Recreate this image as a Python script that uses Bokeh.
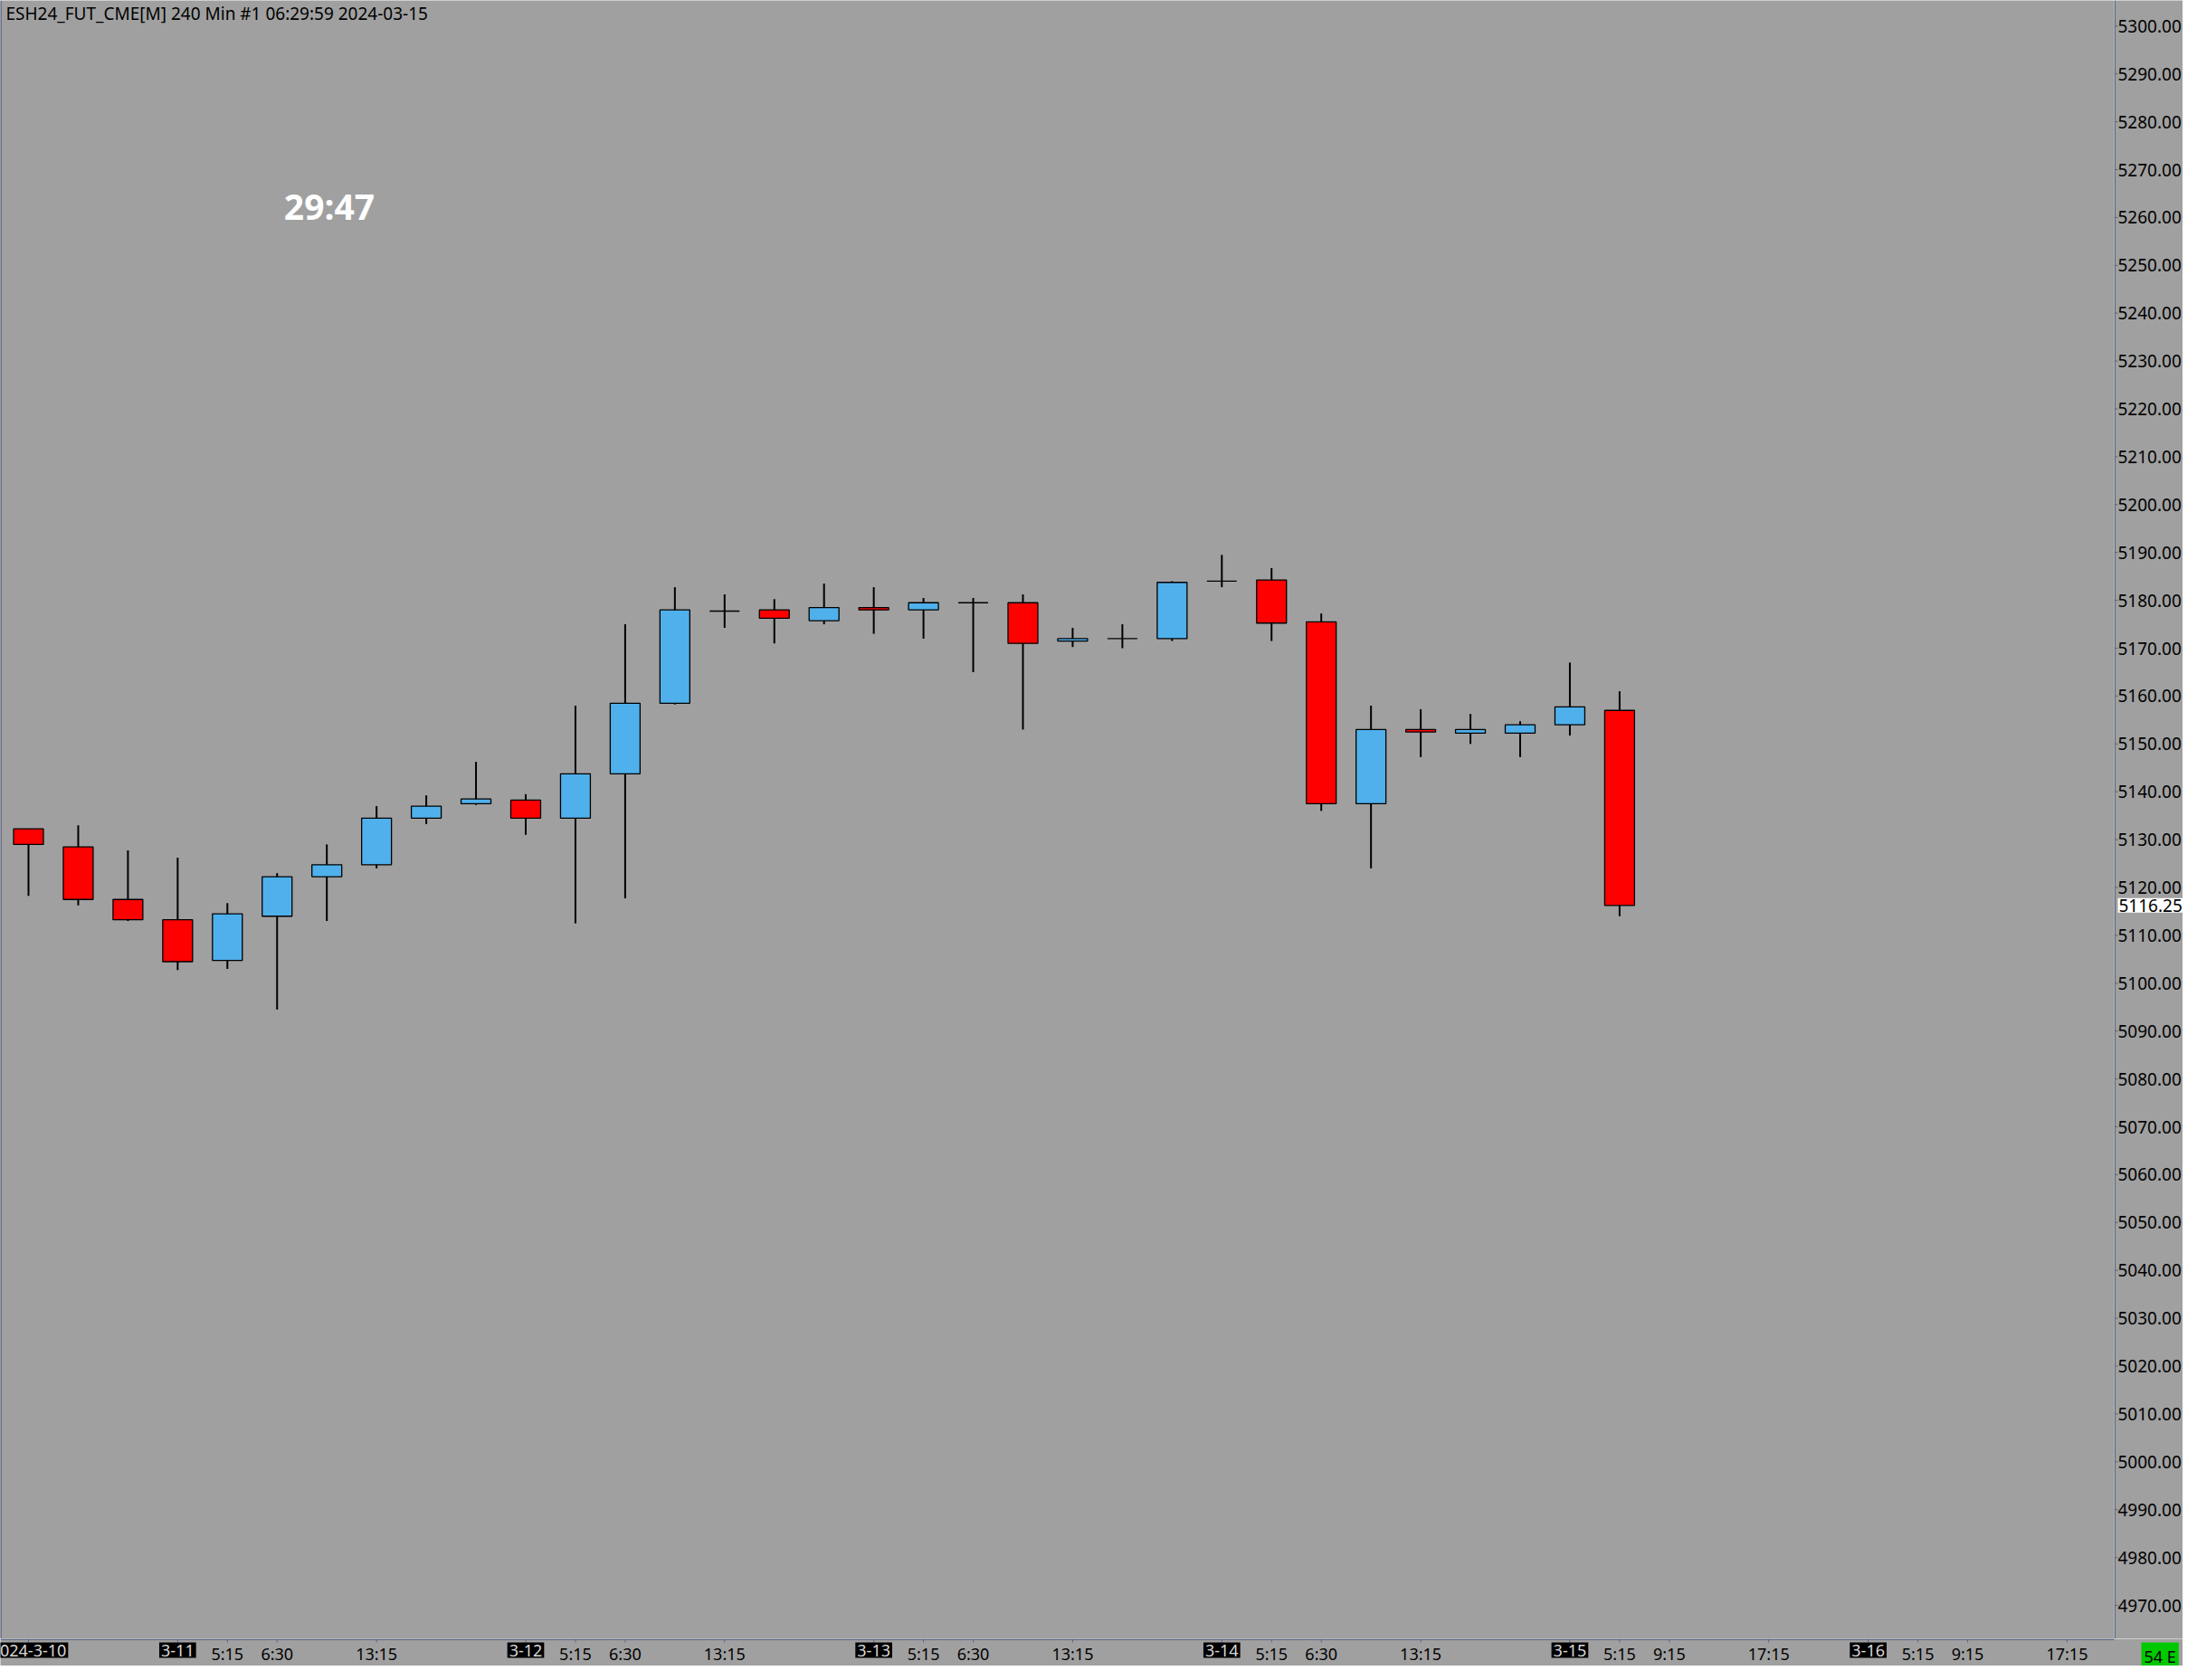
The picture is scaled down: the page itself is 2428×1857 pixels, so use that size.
from bokeh.plotting import figure
from bokeh.models import Range1d, Label, Span, ColumnDataSource
from bokeh.layouts import column, row
from bokeh.core.properties import value
from bokeh.embed import file_html
from bokeh.resources import INLINE

# ---- data (240 min bars, ESH24) ----
bar_index = list(range(33))
opens = [5132.25, 5128.5, 5117.5, 5113.25, 5104.75, 5114.0, 5122.25, 5124.75, 5134.5, 5137.5,
         5138.25, 5134.5, 5143.75, 5158.5, 5177.75, 5178.0, 5175.75, 5178.5, 5178.0, 5179.5,
         5179.5, 5171.5, 5172.0, 5172.0, 5184.0, 5184.25, 5175.5, 5137.5, 5153.0, 5152.25,
         5152.25, 5154.0, 5157.0]
highs = [5132.25, 5133.0, 5127.75, 5126.25, 5116.75, 5123.0, 5129.0, 5137.0, 5139.25, 5146.25,
         5139.5, 5158.0, 5175.0, 5182.75, 5181.25, 5180.25, 5183.5, 5182.75, 5180.5, 5180.5,
         5181.25, 5174.25, 5175.0, 5184.0, 5189.5, 5186.75, 5177.25, 5158.0, 5157.25, 5156.25,
         5154.75, 5167.0, 5161.0]
lows = [5118.25, 5116.25, 5113.0, 5102.75, 5103.0, 5094.5, 5113.0, 5124.0, 5133.25, 5137.25,
        5131.0, 5112.5, 5117.75, 5158.25, 5174.25, 5171.0, 5175.0, 5173.0, 5172.0, 5165.0,
        5153.0, 5170.25, 5170.0, 5171.5, 5182.75, 5171.5, 5136.0, 5124.0, 5147.25, 5150.0,
        5147.25, 5151.75, 5114.0]
closes = [5129.0, 5117.5, 5113.25, 5104.5, 5114.5, 5122.25, 5124.75, 5134.5, 5137.0, 5138.5,
          5134.5, 5143.75, 5158.5, 5178.0, 5177.75, 5176.25, 5178.5, 5178.0, 5179.5, 5179.5,
          5171.0, 5172.0, 5172.0, 5183.75, 5184.0, 5175.25, 5137.5, 5153.0, 5152.5, 5153.0,
          5154.0, 5157.75, 5116.25]

y_ticks = list(range(4970, 5301, 10))
y_tick_labels = [f"{v:.2f}" for v in y_ticks]
date_ticks = [0, 3, 10, 17, 24, 31, 37]
date_labels = ["2024-3-10", "3-11", "3-12", "3-13", "3-14", "3-15", "3-16"]
time_ticks = [4, 5, 7, 11, 12, 14, 18, 19, 21, 25, 26, 28, 32, 33, 35, 38, 39, 41]
time_labels = ["5:15", "6:30", "13:15", "5:15", "6:30", "13:15", "5:15", "6:30", "13:15",
               "5:15", "6:30", "13:15", "5:15", "9:15", "17:15", "5:15", "9:15", "17:15"]

title_text = "ESH24_FUT_CME[M]  240 Min  #1 06:29:59 2024-03-15"
timer_text = "29:47"
last_price_text = "5116.25"
status_text = "54 E"

# ---- styles / layout ----
BG = "#a0a0a0"
UP = "#50b0ec"
DOWN = "#ff0000"
AXIS = "#5c6680"
FONT = "Noto Sans"
FS = "19px"
FS_Y = "19px"
FS_T = "18px"

TOTAL_W, TOTAL_H = 2412, 1841
MAIN_W, MAIN_H = 2336, 1811
SCALE_W = TOTAL_W - MAIN_W
STRIP_H = TOTAL_H - MAIN_H

PX_PER_BAR = 54.95
PX_PER_PT = 5.29
x_lo = -0.564
x_hi = x_lo + MAIN_W / PX_PER_BAR
y_hi = 5305.35
y_lo = y_hi - MAIN_H / PX_PER_PT

colors = [UP if c >= o else DOWN for o, c in zip(opens, closes)]
src = ColumnDataSource(dict(
    x=bar_index, open=opens, high=highs, low=lows, close=closes,
    top=[max(o, c) for o, c in zip(opens, closes)],
    bottom=[min(o, c) for o, c in zip(opens, closes)],
    color=colors,
))


def base_fig(w, h, xr, yr):
    f = figure(width=w, height=h, x_range=xr, y_range=yr, output_backend="svg",
               toolbar_location=None, x_axis_location=None, y_axis_location=None,
               background_fill_color=BG, border_fill_color=BG, outline_line_color=None,
               min_border=0)
    f.grid.visible = False
    return f


# ---- main price pane ----
yr = Range1d(y_lo, y_hi)
p = base_fig(MAIN_W, MAIN_H, Range1d(x_lo, x_hi), yr)
p.segment(x0="x", y0="low", x1="x", y1="high", source=src, line_color="black", line_width=2)
p.vbar(x="x", width=0.6, top="top", bottom="bottom", source=src,
       fill_color="color", line_color="black", line_width=1.3)
p.add_layout(Span(location=x_lo, dimension="height", line_color=AXIS, line_width=2.5))
p.add_layout(Label(x=x_lo, y=y_hi, x_offset=6, y_offset=-1, text=title_text, text_align="left",
                   text_baseline="top", text_font=FONT, text_font_size=FS, text_color="black"))
p.add_layout(Label(x=6.05, y=5262.5, text=timer_text, text_align="center", text_baseline="middle",
                   text_font=FONT, text_font_size="39px", text_font_style="bold", text_color="white"))

# ---- price scale (right) ----
ps = base_fig(SCALE_W, MAIN_H, Range1d(0, SCALE_W), yr)
ps.add_layout(Span(location=0.75, dimension="height", line_color=AXIS, line_width=1.5))
ps.segment(x0=[0] * len(y_ticks), x1=[4] * len(y_ticks), y0=y_ticks, y1=y_ticks,
           line_color=AXIS, line_width=1)
ps.text(x=[4] * len(y_ticks), y=y_ticks, text=y_tick_labels, text_align="left",
        text_baseline="middle", text_font=value(FONT), text_font_size=FS_Y, text_color="black")
ps.add_layout(Label(x=4, y=closes[-1], text=last_price_text, text_align="left",
                    text_baseline="middle", text_font=FONT, text_font_size=FS_Y, text_color="black",
                    background_fill_color="white", padding=1))

# ---- time scale (bottom) ----
ts = base_fig(TOTAL_W, STRIP_H, Range1d(x_lo, x_lo + TOTAL_W / PX_PER_BAR), Range1d(0, STRIP_H))
ts.segment(x0=[x_lo], x1=[x_hi], y0=[STRIP_H - 0.75], y1=[STRIP_H - 0.75],
           line_color=AXIS, line_width=1.5)
all_ticks = date_ticks + time_ticks
ts.segment(x0=all_ticks, x1=all_ticks, y0=[STRIP_H] * len(all_ticks),
           y1=[STRIP_H - 4] * len(all_ticks), line_color=AXIS, line_width=1)
ts.text(x=time_ticks, y=[STRIP_H - 4] * len(time_ticks), text=time_labels, text_align="center",
        text_baseline="top", text_font=value(FONT), text_font_size=FS_T, text_color="black")
for t, lab in zip(date_ticks, date_labels):
    ts.add_layout(Label(x=t, y=STRIP_H - 4, text=lab, text_align="center", text_baseline="top",
                        text_font=FONT, text_font_size=FS_T, text_color="#d8d8d8",
                        background_fill_color="black", padding=2))
ts.add_layout(Label(x=x_hi, y=STRIP_H - 4, x_offset=30, text=status_text, text_align="left",
                    text_baseline="top", text_font=FONT, text_font_size=FS_T, text_color="black",
                    background_fill_color="#00c800", padding=3))

layout = column(row(p, ps, spacing=0), ts, spacing=0)
open("out.html", "w").write(file_html(layout, INLINE))
